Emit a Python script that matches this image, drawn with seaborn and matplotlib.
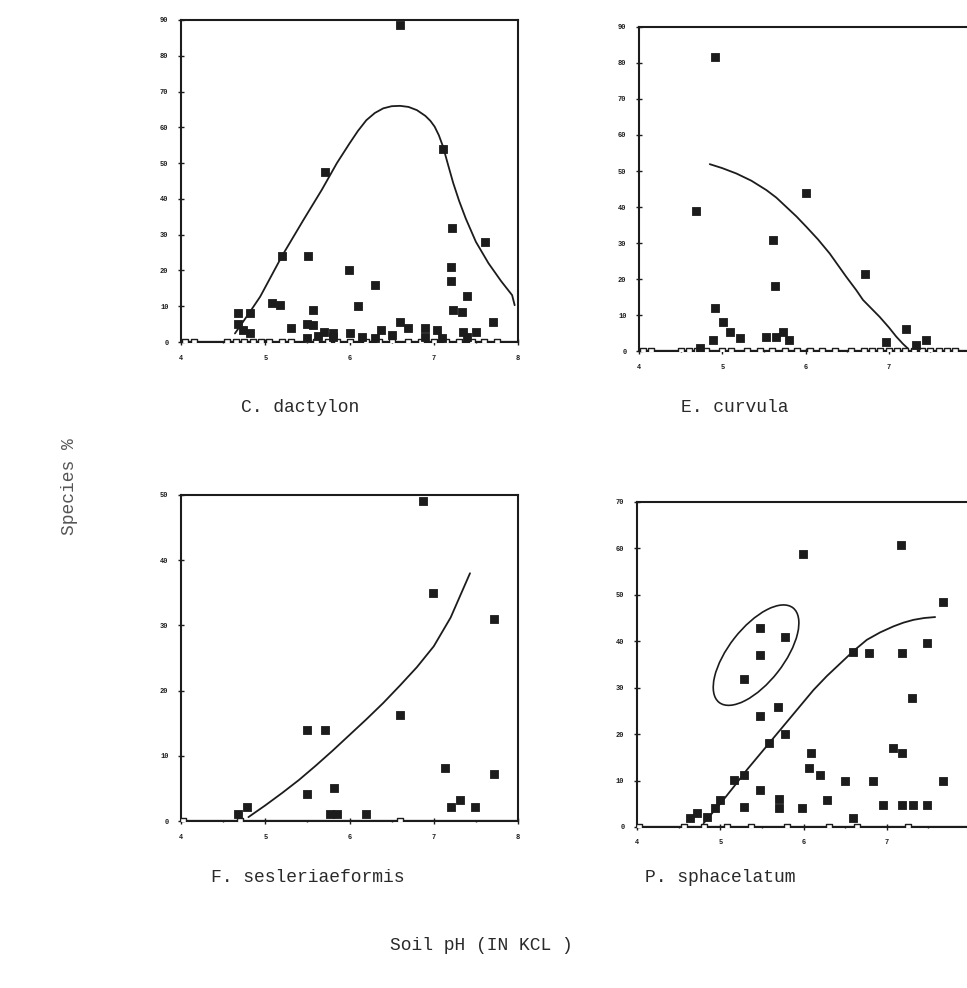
"""
Species % vs soil pH (KCl) -- four grass species, scatter + fitted curve
Output: out.png
"""
import matplotlib
matplotlib.use('Agg')
import matplotlib.pyplot as plt
import matplotlib.transforms as mtrans
from matplotlib.patches import Ellipse
import seaborn as sns
import pandas as pd

sns.set_style('ticks')
plt.rcParams.update({'figure.dpi': 100, 'savefig.facecolor': 'white'})
plt.rcParams['font.family'] = ['Liberation Mono', 'DejaVu Sans Mono']

INK = '#1c1c1c'

# --- C. dactylon ---
cd_ph = [6.6, 7.11, 5.71, 7.22, 7.61, 5.2, 5.51, 5.99, 6.3, 7.2, 7.2, 7.4,
         5.08, 5.17, 5.57, 6.1, 4.68, 4.82, 7.23, 7.33, 7.7, 4.68, 5.3, 5.5,
         5.57, 5.7, 5.8, 6.0, 6.37, 6.6, 6.7, 6.9, 7.04, 7.35, 7.5, 4.74, 4.82,
         5.5, 5.8, 6.3, 6.9, 7.4, 5.62, 6.15, 6.5, 7.1]
cd_pct = [88.6, 54, 47.5, 32, 28, 24, 24, 20, 16, 21, 17, 13,
          11, 10.3, 9, 10, 8, 8, 9, 8.4, 5.6, 5, 4, 5,
          4.7, 2.8, 2.5, 2.5, 3.4, 5.6, 4, 4, 3.4, 2.8, 2.8, 3.4, 2.5,
          1.0, 1.5, 1.2, 1.5, 1.3, 1.8, 1.4, 2.0, 1.2]
cd_zero = [4.05, 4.15, 4.55, 4.65, 4.75, 4.85, 4.95, 5.05, 5.2, 5.3, 5.5, 5.6,
           5.75, 5.85, 6.0, 6.2, 6.35, 6.5, 6.7, 6.85, 7.0, 7.15, 7.3, 7.45,
           7.6, 7.75]
cd_fit_ph = [4.64, 4.82, 4.94, 5.2, 5.45, 5.67, 5.85, 6.0, 6.1, 6.2, 6.3, 6.4,
             6.5, 6.6, 6.7, 6.8, 6.9, 6.96, 7.01, 7.06, 7.11, 7.17, 7.23, 7.3,
             7.38, 7.5, 7.65, 7.8, 7.93, 7.96]
cd_fit_pct = [2.4, 8.5, 12.7, 24.1, 34.0, 42.5, 50.0, 55.5, 59.0, 62.0, 64.0,
              65.3, 65.9, 66.0, 65.7, 64.8, 63.2, 61.8, 60.2, 57.8, 54.6, 49.5,
              44.5, 39.5, 34.5, 28.0, 22.0, 17.0, 13.1, 10.3]

# --- E. curvula ---
ec_ph = [4.91, 4.68, 6.01, 5.61, 6.71, 5.63, 4.91, 5.01, 5.09, 5.21, 4.89,
         4.73, 5.53, 5.65, 5.73, 5.8, 7.21, 6.97, 7.45, 7.33]
ec_pct = [81.7, 39, 44, 30.8, 21.4, 18, 11.9, 8.1, 5.4, 3.6, 3,
          0.8, 4, 4, 5.4, 3, 6, 2.6, 3.2, 1.7]
ec_zero = [4.05, 4.15, 4.5, 4.6, 4.7, 4.8, 5.0, 5.1, 5.3, 5.45, 5.6, 5.75,
           5.9, 6.05, 6.2, 6.35, 6.55, 6.7, 6.8, 6.9, 7.0, 7.1, 7.2, 7.3,
           7.4, 7.5, 7.6, 7.7, 7.8]
ec_fit_ph = [4.85, 5.0, 5.17, 5.35, 5.53, 5.65, 5.77, 5.89, 6.01, 6.15, 6.29,
             6.49, 6.61, 6.69, 6.89, 7.0, 7.09, 7.17, 7.23]
ec_fit_pct = [51.9, 50.8, 49.3, 47.3, 44.7, 42.6, 40, 37.4, 34.5, 31.0, 27.1,
              20.6, 16.9, 14.2, 9.5, 6.6, 4, 2.0, 0.7]

# --- F. sesleriaeformis ---
fs_ph = [6.87, 6.99, 7.71, 6.6, 5.49, 5.71, 7.13, 7.71, 5.49, 5.81, 7.31,
         7.21, 7.49, 4.78, 4.68, 5.77, 5.85, 6.2]
fs_pct = [49.1, 35, 31, 16.3, 14, 14, 8.1, 7.2, 4.1, 5, 3.3,
          2.2, 2.2, 2.2, 1.1, 1.1, 1.1, 1.1]
fs_zero = [4.02, 4.7, 6.6]
fs_fit_ph = [4.8, 5.0, 5.2, 5.4, 5.6, 5.8, 6.0, 6.2, 6.4, 6.6, 6.8, 7.0,
             7.2, 7.43]
fs_fit_pct = [0.6, 2.4, 4.3, 6.3, 8.5, 10.8, 13.2, 15.6, 18.1, 20.8, 23.6,
              26.8, 31.2, 38]

# --- P. sphacelatum ---
ps_ph = [5.99, 7.17, 7.68, 5.48, 5.78, 5.48, 5.29, 5.69, 5.48, 5.78, 5.59,
         6.59, 6.79, 7.18, 7.48, 7.3, 7.08, 7.18, 6.09, 6.06, 6.2, 5.28, 5.16,
         5.48, 5.7, 5.7, 5.28, 5.98, 5.0, 6.28, 6.5, 6.84, 7.68, 6.96, 7.18,
         7.32, 7.48, 6.6, 4.72, 4.64, 4.84, 4.94]
ps_pct = [58.8, 60.7, 48.5, 42.9, 40.8, 37.1, 31.9, 25.9, 23.8, 20, 18,
          37.6, 37.5, 37.4, 39.7, 27.7, 16.9, 15.9, 15.9, 12.6, 11.2, 11.2, 10.1,
          8, 6, 4, 4.3, 4, 5.8, 5.8, 10, 10, 9.8, 4.7, 4.7,
          4.7, 4.7, 1.9, 2.9, 1.9, 2.2, 4]
ps_zero = [4.02, 4.57, 4.8, 5.08, 5.37, 5.8, 6.3, 6.64, 7.25]
ps_fit_ph = [4.8, 5.0, 5.16, 5.32, 5.52, 5.72, 5.92, 6.12, 6.28, 6.44, 6.6,
             6.76, 6.92, 7.08, 7.2, 7.32, 7.45, 7.58]
ps_fit_pct = [0.8, 5.0, 8.6, 12.3, 16.6, 20.9, 25.2, 29.5, 32.5, 35.2, 37.9,
              40.3, 41.9, 43.2, 44.0, 44.6, 45.0, 45.2]

panels = [
    # name, pos [l, b, w, h], ymax, ystep, data, right spine
    ('C. dactylon', [0.1872, 0.6538, 0.3485, 0.326], 90, 10,
     (cd_ph, cd_pct, cd_zero, cd_fit_ph, cd_fit_pct), True),
    ('E. curvula', [0.6608, 0.6447, 0.3444, 0.328], 90, 10,
     (ec_ph, ec_pct, ec_zero, ec_fit_ph, ec_fit_pct), False),
    ('F. sesleriaeformis', [0.1872, 0.169, 0.3485, 0.33], 50, 10,
     (fs_ph, fs_pct, fs_zero, fs_fit_ph, fs_fit_pct), True),
    ('P. sphacelatum', [0.6587, 0.163, 0.3445, 0.329], 70, 10,
     (ps_ph, ps_pct, ps_zero, ps_fit_ph, ps_fit_pct), False),
]
x_ticks = [4, 5, 6, 7, 8]

fig = plt.figure(figsize=(9.67, 9.88))
axes = []
for name, pos, ymax, ystep, (ph, pct, zero, fph, fpct), right in panels:
    ax = fig.add_axes(pos)
    pts = pd.DataFrame({'ph': ph, 'pct': pct})
    zer = pd.DataFrame({'ph': zero, 'pct': [0] * len(zero)})
    fit = pd.DataFrame({'ph': fph, 'pct': fpct})
    sns.lineplot(data=fit, x='ph', y='pct', ax=ax, color=INK, linewidth=1.3,
                 sort=False, estimator=None)
    ax.axhline(0, color=INK, linewidth=1.6, zorder=1)
    sns.scatterplot(data=zer, x='ph', y='pct', ax=ax, marker='s', s=22,
                    facecolor='white', edgecolor=INK, linewidth=1.0, zorder=3)
    sns.scatterplot(data=pts, x='ph', y='pct', ax=ax, marker='s', s=30,
                    color=INK, edgecolor=INK, linewidth=0.6, zorder=4)
    ax.set_xlim(4, 8)
    ax.set_ylim(0, ymax)
    ax.set_xticks(x_ticks)
    # right-hand panels run off the page edge, so their last label is not shown
    ax.set_xticklabels([str(t) if (right or t < 8) else '' for t in x_ticks])
    ax.set_xticks([4.5, 5.5, 6.5, 7.5], minor=True)
    ax.set_yticks(range(0, ymax + 1, ystep))
    ax.set_xlabel('')
    ax.set_ylabel('')
    ax.tick_params(which='both', direction='inout', length=4, width=1.0,
                   color=INK, labelsize=5, pad=7, labelcolor=INK)
    ax.tick_params(which='minor', length=2)
    for lab in ax.get_xticklabels() + ax.get_yticklabels():
        lab.set_fontweight('bold')
    for side in ['left', 'top', 'bottom', 'right']:
        ax.spines[side].set_linewidth(1.5)
        ax.spines[side].set_color(INK)
    ax.spines['right'].set_visible(right)
    ax.set_facecolor('none')
    axes.append(ax)

# ellipse drawn round the four low-pH high-cover samples
ax_ps = axes[3]
ell = Ellipse((0, 0), width=1.2, height=0.55, angle=52, fill=False,
              edgecolor=INK, linewidth=1.2,
              transform=fig.dpi_scale_trans + mtrans.ScaledTranslation(5.43, 37.0, ax_ps.transData))
ax_ps.add_patch(ell)

# captions
txt = dict(ha='center', va='center', color='#2a2a2a', fontsize=13)
fig.text(300 / 967, 1 - 407 / 988, 'C. dactylon', **txt)
fig.text(735 / 967, 1 - 407 / 988, 'E. curvula', **txt)
fig.text(308 / 967, 1 - 877 / 988, 'F. sesleriaeformis', **txt)
fig.text(720 / 967, 1 - 877 / 988, 'P. sphacelatum', **txt)
fig.text(481 / 967, 1 - 945 / 988, 'Soil pH (IN KCL )', **txt)
fig.text(70 / 967, 1 - 487 / 988, 'Species %', rotation=90,
         **{**txt, 'color': '#555555'})

plt.savefig('out.png', dpi=100)
plt.close()
print("saved out.png")
